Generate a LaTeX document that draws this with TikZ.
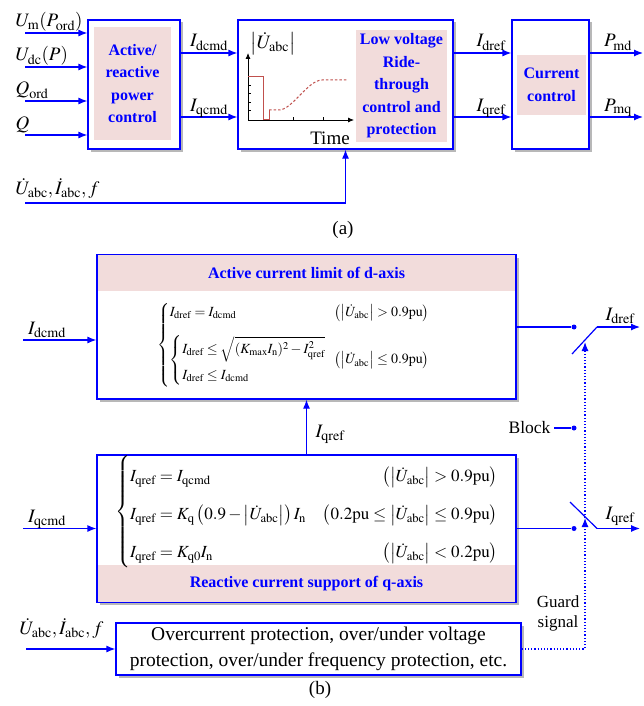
\documentclass[tikz,border=0pt]{standalone}
\usepackage{amsmath}
\usepackage{mathptmx}
\usepackage{fontspec}
\setmainfont{Liberation Serif}
\usetikzlibrary{arrows.meta,shadows}

\definecolor{rosa}{RGB}{242,220,219}
\definecolor{rojo}{RGB}{192,80,77}
\definecolor{azul}{RGB}{0,0,255}

\tikzset{
  caja/.style={draw=azul, line width=1.2pt, fill=white,
    drop shadow={shadow xshift=2.5pt, shadow yshift=-2.5pt, fill=black!35, opacity=0.8}},
  fondo/.style={fill=rosa, inner sep=0pt},
  titulo/.style={text=azul, font=\fontsize{16}{22.5}\selectfont\bfseries, align=center},
  flecha/.style={azul, line width=1.2pt, -{Latex[length=9pt,width=7pt]}},
  linea/.style={azul, line width=1.2pt},
  punto/.style={circle, fill=azul, inner sep=0pt, minimum size=5pt},
  punteado/.style={azul, line width=1.2pt, dotted},
  etiq/.style={font=\fontsize{19}{21}\selectfont},
}

\begin{document}
\begin{tikzpicture}[x=1pt, y=-1pt]

    \useasboundingbox (0,0) rectangle (644,706);

    %(a) cajas
    \node[caja, minimum width=92, minimum height=129] (apc) at (134,84.5) {};
    \node[fondo, titulo, minimum width=77, minimum height=113] (apct) at (132.5,83.5)
    {Active/\\reactive\\power\\control};

    \node[caja, minimum width=215, minimum height=129] (lvrt) at (345.5,84.5) {};
    \node[fondo, titulo, minimum width=91, minimum height=112] (lvrtt) at (401.5,86)
    {Low voltage\\Ride-\\through\\control and\\protection};

    \node[caja, minimum width=77, minimum height=129] (cc) at (550.5,84.5) {};
    \node[fondo, titulo, minimum width=69, minimum height=60] (cct) at (551.5,85)
    {Current\\control};

    %entradas
    \coordinate (um) at (25,33);
    \coordinate (udc) at (25,67);
    \coordinate (qord) at (25,101);
    \coordinate (qq) at (25,135);
    \node[etiq, anchor=base west] (lum) at (12,27) {$U_{\rm m}(P_{\rm ord})$};
    \node[etiq, anchor=base west] (ludc) at (12,61) {$U_{\rm dc}(P)$};
    \node[etiq, anchor=base west] (lqord) at (12,95) {$Q_{\rm ord}$};
    \node[etiq, anchor=base west] (lqq) at (12,129) {$Q$};
    \foreach \p in {um,udc,qord,qq}{
    \draw[flecha] (\p) -- (\p -| apc.west);}

    %corrientes
    \draw[flecha] ([yshift=31.5pt]apc.east) -- ([yshift=31.5pt]apc.east -| lvrt.west);
    \draw[flecha] ([yshift=-32.5pt]apc.east) -- ([yshift=-32.5pt]apc.east -| lvrt.west);
    \draw[flecha] ([yshift=31.5pt]lvrt.east) -- ([yshift=31.5pt]lvrt.east -| cc.west);
    \draw[flecha] ([yshift=-32.5pt]lvrt.east) -- ([yshift=-32.5pt]lvrt.east -| cc.west);
    \node[etiq, anchor=base] (lidcmd) at (209,47) {$I_{\rm dcmd}$};
    \node[etiq, anchor=base] (liqcmd) at (209,111) {$I_{\rm qcmd}$};
    \node[etiq, anchor=base] (lidref) at (491,47) {$I_{\rm dref}$};
    \node[etiq, anchor=base] (liqref) at (491,111) {$I_{\rm qref}$};

    %salidas
    \coordinate (pmd) at (643,53);
    \coordinate (pmq) at (643,117);
    \draw[flecha] (pmd -| cc.east) -- (pmd);
    \draw[flecha] (pmq -| cc.east) -- (pmq);
    \node[etiq, anchor=base] (lpmd) at (618,47) {$P_{\rm md}$};
    \node[etiq, anchor=base] (lpmq) at (618,111) {$P_{\rm mq}$};

    %medidas
    \coordinate (fb) at (25,203);
    \node[etiq, anchor=base west] (lfb) at (12,194) {$\dot{U}_{\rm abc},\dot{I}_{\rm abc},f$};
    \draw[flecha] (fb) -| (lvrt.south);

    %grafica de tension
    \draw[line width=0.8pt, -{Latex[length=6pt,width=5pt]}] (248,120) -- (248,53);
    \draw[line width=0.8pt, -{Latex[length=6pt,width=5pt]}] (248,120) -- (354,120);
    \foreach \y in {85,93,102,110}{
    \draw[line width=0.6pt] (248,\y) -- (251,\y);}
    \foreach \x in {293,323}{
    \draw[line width=0.6pt] (\x,120) -- (\x,117);}
    \draw[rojo, line width=1pt] (248,77) -- (263,77) -- (263,120) -- (269,120) -- (269,110);
    \draw[rojo, line width=1pt, dash pattern=on 2.5pt off 2pt] (269,110) -- (279,110)
    .. controls (292,110) and (308,80) .. (322,80) -- (347,80);
    \node[etiq] (lu) at (273,44) {$\left|\dot{U}_{\rm abc}\right|$};
    \node[etiq] (ltime) at (330,138) {Time};

    \node[etiq] (capa) at (343,230) {(a)};


    %(b) bloques
    \node[caja, minimum width=419, minimum height=144] (dbox) at (306.5,327) {};
    \node[fondo, titulo, minimum width=417.8, minimum height=36, anchor=north] (dtit)
    at ([yshift=-0.6pt]dbox.north) {Active current limit of d-axis};

    \node[caja, minimum width=419, minimum height=147] (qbox) at (306.5,528.5) {};
    \node[fondo, titulo, minimum width=417.8, minimum height=37, anchor=south] (qtit)
    at ([yshift=0.6pt]qbox.south) {Reactive current support of q-axis};

    \node[font=\fontsize{14}{16}\selectfont] (eqd) at (294,345)
    {$\left\{\begin{array}{@{}l@{\hspace{8pt}}l@{}}
      I_{\rm dref}=I_{\rm dcmd} & \left(\left|\dot{U}_{\rm abc}\right|>0.9{\rm pu}\right)\\[14pt]
      \left\{\begin{array}{@{}l@{}}
        I_{\rm dref}\le\sqrt{(K_{\rm max}I_{\rm n})^2-I_{\rm qref}^2}\\[10pt]
        I_{\rm dref}\le I_{\rm dcmd}
      \end{array}\right. & \left(\left|\dot{U}_{\rm abc}\right|\le0.9{\rm pu}\right)
    \end{array}\right.$};

    \node[font=\fontsize{17}{19}\selectfont] (eqq) at (307,512)
    {$\left\{\renewcommand{\arraystretch}{2}\begin{array}{@{}l@{\quad}r@{}}
      I_{\rm qref}=I_{\rm qcmd} & \left(\left|\dot{U}_{\rm abc}\right|>0.9{\rm pu}\right)\\
      I_{\rm qref}=K_{\rm q}\left(0.9-\left|\dot{U}_{\rm abc}\right|\right)I_{\rm n} &
      \left(0.2{\rm pu}\le\left|\dot{U}_{\rm abc}\right|\le0.9{\rm pu}\right)\\
      I_{\rm qref}=K_{\rm q0}I_{\rm n} & \left(\left|\dot{U}_{\rm abc}\right|<0.2{\rm pu}\right)
    \end{array}\right.$};

    \node[caja, minimum width=405, minimum height=52, inner sep=1pt, align=center,
    font=\fontsize{19.5}{26}\selectfont] (pbox) at (318.5,649)
    {Overcurrent protection, over/under voltage\\protection, over/under frequency protection, etc.};

    %entradas (b)
    \coordinate (dcmd) at (23,340);
    \coordinate (qcmd) at (23,528.5);
    \coordinate (prot) at (26,649);
    \draw[flecha] (dcmd) -- (dcmd -| dbox.west);
    \draw[flecha] (qcmd) -- (qcmd -| qbox.west);
    \draw[flecha] (prot) -- (prot -| pbox.west);
    \node[etiq, anchor=base] (ldcmd) at (47,334) {$I_{\rm dcmd}$};
    \node[etiq, anchor=base] (lqcmd) at (47,522) {$I_{\rm qcmd}$};
    \node[etiq, anchor=base west] (lprot) at (16,634) {$\dot{U}_{\rm abc},\dot{I}_{\rm abc},f$};

    \draw[flecha] (qbox.north) -- (dbox.south);
    \node[etiq, anchor=base west] (lqref) at (312,437) {$I_{\rm qref}$};

    %interruptores
    \node[punto] (pd) at (574,327) {};
    \node[punto] (pq) at (574,528.5) {};
    \node[punto] (pb) at (574,428) {};
    \coordinate (bd0) at (572,354);
    \coordinate (bd) at (597,327);
    \coordinate (od) at (640,327);
    \coordinate (bq0) at (570,502);
    \coordinate (bq) at (597,528.5);
    \coordinate (oq) at (640,528.5);

    \draw[linea] (dbox.east) -- (pd);
    \draw[linea] (bd0) -- (bd);
    \draw[flecha] (bd) -- (od);
    \draw[linea] (qbox.east) -- (pq);
    \draw[linea] (bq0) -- (bq);
    \draw[flecha] (bq) -- (oq);
    \node[etiq, anchor=base] (lsd) at (620,320) {$I_{\rm dref}$};
    \node[etiq, anchor=base] (lsq) at (620,519) {$I_{\rm qref}$};

    \node[font=\fontsize{17.5}{20}\selectfont, anchor=east] (lblock) at (554,428) {Block};
    \draw[linea] (lblock) -- (pb);

    %senal de guarda
    \coordinate (gq) at (585,518);
    \coordinate (gd) at (585,342);
    \draw[punteado, -{Latex[length=9pt,width=7pt]}] (pbox.east) -| (gq);
    \draw[punteado, -{Latex[length=9pt,width=7pt]}] (gq) -- (gd);
    \node[font=\fontsize{17}{20}\selectfont, align=center] (lguard) at (558,613) {Guard\\signal};

    \node[etiq] (capb) at (320,690) {(b)};

\end{tikzpicture}
\end{document}
